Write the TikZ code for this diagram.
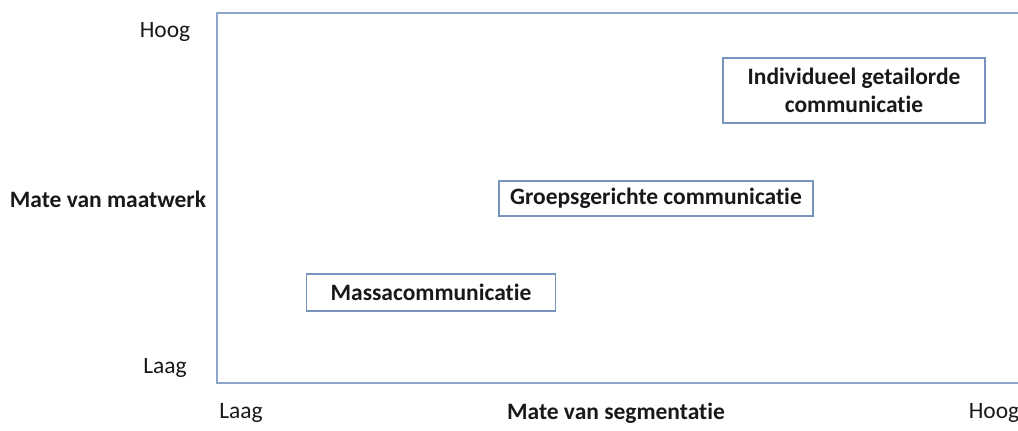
\documentclass[tikz,border=0pt]{standalone}
\usepackage{xcolor}
\usepackage{fontspec}
\setmainfont{Carlito}[Ligatures=NoCommon]
\usepackage{tikz}
\usetikzlibrary{positioning, calc}
\definecolor{frameblue}{RGB}{140,164,200}
\definecolor{boxblue}{RGB}{120,148,190}
\definecolor{txtgray}{RGB}{25,25,25}

\begin{document}
\begin{tikzpicture}[x=0.025cm, y=-0.025cm,
  cat/.style={rectangle, draw=boxblue, fill=white, line width=0.8pt, align=center, inner sep=0pt, font=\fontsize{16.7}{20}\selectfont\bfseries, text=txtgray},
  tick/.style={font=\fontsize{16.7}{20}\selectfont, text=txtgray, inner sep=0pt},
  axlabel/.style={font=\fontsize{16.7}{20}\selectfont\bfseries, text=txtgray, inner sep=0pt},
  frame/.style={draw=frameblue, line width=1.2pt}
]
\useasboundingbox (0,0) rectangle (1018,431);
% frame
\coordinate (tl) at (217,13);
\coordinate (bl) at (217,383);
\coordinate (tr) at (1018,13);
\coordinate (br) at (1018,383);
\draw[frame] (tr) -- (tl) -- (bl) -- (br);
% axis texts
\node[tick] (yhigh) at (165,32) {Hoog};
\node[tick] (ylow) at (165,368) {Laag};
\node[axlabel] (ylab) at (108,199) {Mate van maatwerk};
\node[tick] (xlow) at (241,413) {Laag};
\node[axlabel] (xlab) at (616,413) {Mate van segmentatie};
\node[tick] (xhigh) at (994,413) {Hoog};
% categories
\node[cat, minimum width=262*0.025cm, minimum height=65*0.025cm] (indiv) at (854,90.5) {Individueel getailorde\\communicatie};
\node[cat, minimum width=314*0.025cm, minimum height=35*0.025cm] (groep) at (656,198.5) {Groepsgerichte communicatie};
\node[cat, minimum width=249*0.025cm, minimum height=37*0.025cm] (massa) at (431,292.5) {Massacommunicatie};
\end{tikzpicture}
\end{document}
